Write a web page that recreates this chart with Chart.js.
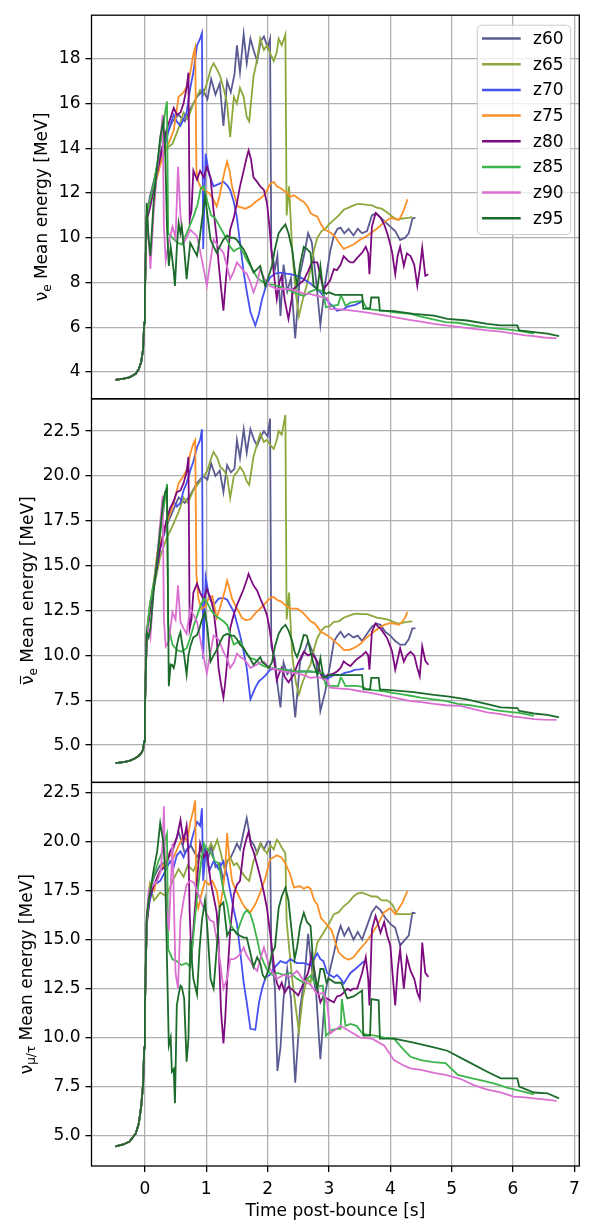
<!DOCTYPE html>
<html>
<head>
<meta charset="utf-8">
<script src="https://cdn.jsdelivr.net/npm/chart.js@4.4.1/dist/chart.umd.min.js"></script>
<style>
  html, body { margin: 0; padding: 0; background: #fff; }
  #wrap { position: relative; width: 593px; height: 1223px; }
</style>
</head>
<body>
<div id="wrap"><canvas id="c" width="593" height="1223"></canvas></div>
<script>
// shared pre-bounce part (time in s, mean energies in MeV)
const PRE_T    = [-0.48, -0.35, -0.25, -0.15, -0.1, -0.06, -0.03, -0.01, 0.0];
const PRE_NUE  = [3.65, 3.7, 3.76, 3.92, 4.12, 4.45, 5.0, 6.2, 7.5];
const PRE_ANUE = [4.0, 4.05, 4.12, 4.28, 4.4, 4.55, 4.75, 5.2, 7.0];
const PRE_NUX  = [4.45, 4.55, 4.7, 5.1, 5.6, 6.5, 7.6, 9.5, 11.5];

const z60_t = [0.03, 0.08, 0.15, 0.25, 0.35, 0.45, 0.55, 0.65, 0.75, 0.85,
  0.95, 1.02, 1.08, 1.15, 1.22, 1.28, 1.34, 1.4, 1.46, 1.5,
  1.55, 1.61, 1.66, 1.72, 1.78, 1.83, 1.89, 1.94, 2.0, 2.04,
  2.06, 2.12, 2.16, 2.21, 2.26, 2.32, 2.38, 2.45, 2.53, 2.6,
  2.66, 2.72, 2.79, 2.86, 2.94, 3.02, 3.08, 3.14, 3.19, 3.25,
  3.32, 3.4, 3.47, 3.54, 3.62, 3.7, 3.77, 3.84, 3.92, 4.0,
  4.08, 4.16, 4.24, 4.3, 4.36, 4.41];
const z60_nue = [11.0, 11.8, 12.6, 13.8, 14.6, 15.2, 15.5, 15.2, 15.8, 16.3,
  16.6, 16.2, 17.1, 16.4, 16.9, 15.0, 17.0, 16.5, 17.3, 18.6,
  17.4, 19.1, 17.8, 18.9, 18.3, 17.9, 18.8, 19.0, 18.5, 18.9,
  9.5, 8.6, 9.2, 6.5, 8.8, 7.6, 8.2, 5.5, 8.4, 9.3,
  10.2, 9.8, 8.1, 6.1, 8.0, 9.4, 10.1, 10.4, 10.45, 10.2,
  10.4, 10.1, 10.4, 10.2, 10.3, 11.0, 11.1, 10.9, 10.7, 10.5,
  10.3, 9.9, 10.0, 10.2, 10.85, 10.9];
const z60_anue = [11.2, 12.8, 14.0, 16.0, 17.2, 18.0, 18.8, 18.5, 19.0, 19.6,
  20.0, 19.8, 20.7, 20.0, 20.3, 19.1, 20.6, 20.2, 20.4, 22.0,
  21.0, 22.6, 21.3, 22.6, 22.0, 21.7, 22.2, 22.5, 22.2, 23.2,
  10.5, 9.8, 8.4, 7.1, 9.6, 8.95, 9.2, 6.54, 9.66, 10.2,
  10.8, 10.3, 9.8, 6.9, 8.0, 9.5, 10.77, 11.1, 11.32, 11.0,
  11.2, 11.0, 11.1, 10.8, 11.2, 11.6, 11.78, 11.7, 11.3, 11.1,
  10.8, 10.6, 10.6, 10.9, 11.5, 11.5];
const z60_nux = [15.9, 17.5, 18.2, 18.8, 19.0, 19.5, 20.5, 19.4, 19.8, 19.2,
  19.8, 19.0, 19.8, 18.7, 18.9, 18.0, 19.0, 19.2, 19.6, 19.9,
  19.6, 20.5, 21.2, 20.1, 19.8, 19.4, 19.9, 19.6, 20.0, 20.0,
  14.5, 12.5, 8.3, 9.5, 12.0, 13.5, 12.0, 7.7, 11.5, 13.0,
  15.3, 13.5, 12.3, 8.9, 12.3, 13.5, 14.3, 15.2, 15.7, 15.2,
  15.6, 15.0, 15.4, 15.0, 15.7, 16.4, 16.7, 16.5, 16.1, 15.8,
  15.6, 14.7, 15.0, 15.2, 16.37, 16.35];

const z65_t = [0.03, 0.08, 0.15, 0.25, 0.35, 0.45, 0.55, 0.63, 0.7, 0.79,
  0.9, 0.95, 1.02, 1.08, 1.12, 1.18, 1.23, 1.29, 1.34, 1.39,
  1.45, 1.5, 1.55, 1.61, 1.66, 1.7, 1.77, 1.83, 1.88, 1.94,
  1.99, 2.05, 2.1, 2.15, 2.18, 2.23, 2.29, 2.31, 2.35, 2.4,
  2.46, 2.51, 2.57, 2.64, 2.7, 2.76, 2.81, 2.88, 2.94, 3.0,
  3.08, 3.16, 3.24, 3.32, 3.4, 3.46, 3.54, 3.62, 3.7, 3.78,
  3.86, 3.95, 4.03, 4.11, 4.18, 4.25, 4.31, 4.36];
const z65_nue = [11.0, 11.5, 12.3, 13.3, 14.0, 14.2, 14.9, 15.6, 15.3, 16.0,
  16.6, 16.4, 17.0, 17.6, 17.8, 17.5, 17.2, 16.6, 16.0, 14.5,
  16.3, 16.0, 16.7, 16.3, 15.4, 15.2, 17.2, 18.0, 18.9, 18.4,
  18.6, 18.2, 17.9, 18.3, 18.9, 18.6, 19.08, 11.0, 12.3, 9.5,
  7.5, 6.5, 7.2, 7.9, 8.6, 9.5, 10.0, 10.3, 10.4, 10.6,
  10.8, 11.0, 11.25, 11.35, 11.45, 11.5, 11.5, 11.47, 11.45, 11.35,
  11.3, 11.13, 10.95, 10.8, 10.85, 10.88, 10.9, 10.92];
const z65_anue = [11.2, 12.5, 13.8, 15.5, 16.5, 17.2, 18.0, 18.8, 18.5, 19.2,
  19.7, 19.96, 20.3, 21.0, 21.34, 21.0, 20.5, 20.3, 20.0, 18.77,
  20.0, 20.2, 20.5, 20.2, 19.7, 19.5, 21.07, 21.8, 22.35, 21.9,
  22.0, 21.7, 21.5, 22.0, 22.5, 22.3, 23.4, 12.0, 13.5, 10.0,
  8.5, 7.83, 8.5, 9.1, 9.5, 10.4, 10.97, 11.4, 11.6, 11.6,
  11.87, 11.9, 12.1, 12.2, 12.3, 12.33, 12.3, 12.3, 12.2, 12.1,
  12.06, 12.0, 11.9, 11.78, 11.8, 11.85, 11.88, 11.9];
const z65_nux = [15.9, 17.8, 17.0, 17.4, 17.2, 18.0, 18.6, 18.2, 18.8, 18.5,
  19.3, 19.0, 19.5, 19.9, 19.6, 20.1, 19.5, 18.7, 19.0, 19.2,
  18.8, 18.9, 18.6, 18.3, 18.1, 18.0, 19.0, 19.5, 19.9, 19.6,
  19.4, 19.8, 19.6, 20.1, 20.0, 19.7, 19.4, 15.96, 14.6, 13.0,
  11.5, 10.3, 12.0, 13.0, 12.8, 14.0, 14.85, 15.2, 15.5, 15.8,
  16.3, 16.4, 16.7, 16.9, 17.2, 17.35, 17.4, 17.3, 17.2, 17.2,
  17.0, 17.0, 16.8, 16.3, 16.3, 16.3, 16.3, 16.3];

const z70_t = [0.03, 0.08, 0.15, 0.25, 0.35, 0.41, 0.47, 0.52, 0.58, 0.63,
  0.68, 0.74, 0.79, 0.85, 0.9, 0.93, 0.95, 0.99, 1.05, 1.12,
  1.2, 1.28, 1.34, 1.39, 1.45, 1.5, 1.55, 1.61, 1.66, 1.72,
  1.8, 1.86, 1.91, 1.97, 2.04, 2.12, 2.21, 2.3, 2.37, 2.48,
  2.59, 2.7, 2.81, 2.86, 2.91, 2.97, 3.02, 3.08, 3.13, 3.19,
  3.24, 3.29, 3.35, 3.43, 3.5, 3.57];
const z70_nue = [11.0, 11.5, 12.4, 13.5, 14.4, 15.0, 15.5, 15.2, 15.0, 15.3,
  15.6, 16.7, 17.4, 18.6, 18.9, 19.15, 9.5, 13.76, 12.8, 12.3,
  12.4, 12.5, 12.35, 12.14, 11.6, 10.9, 9.8, 8.45, 7.6, 6.68,
  6.08, 6.6, 7.26, 7.8, 8.22, 8.4, 8.44, 8.4, 8.37, 8.3,
  8.15, 7.95, 7.7, 7.56, 7.4, 7.2, 7.04, 6.9, 6.74, 6.78,
  6.8, 6.9, 6.95, 7.0, 7.1, 7.18];
const z70_anue = [11.2, 12.6, 14.0, 16.0, 17.3, 18.0, 18.6, 18.3, 18.5, 19.2,
  19.6, 20.3, 20.8, 21.6, 22.0, 22.6, 9.8, 14.35, 13.2, 12.8,
  13.16, 13.2, 13.1, 12.8, 12.42, 11.8, 11.14, 10.2, 9.3, 7.55,
  8.2, 8.56, 8.7, 8.9, 9.2, 9.25, 9.2, 9.2, 9.15, 9.1,
  9.1, 9.1, 9.05, 9.0, 8.97, 8.67, 8.8, 8.9, 8.93, 8.9,
  9.0, 9.05, 9.1, 9.2, 9.22, 9.26];
const z70_nux = [15.9, 17.0, 17.8, 18.0, 18.6, 19.0, 18.7, 19.3, 19.5, 19.2,
  19.6, 19.8, 20.4, 21.0, 20.8, 21.7, 18.0, 19.5, 18.5, 19.0,
  18.6, 19.0, 18.3, 17.5, 16.5, 15.8, 14.5, 12.8, 11.8, 10.45,
  10.4, 11.8, 12.5, 13.1, 13.2, 13.6, 13.9, 13.8, 14.0, 13.8,
  13.8, 13.7, 14.3, 14.0, 13.9, 13.3, 13.2, 13.07, 13.2, 13.0,
  12.76, 13.0, 13.3, 13.5, 13.7, 13.9];

const z75_t = [0.03, 0.08, 0.15, 0.2, 0.3, 0.4, 0.47, 0.55, 0.63, 0.69,
  0.74, 0.79, 0.82, 0.84, 0.87, 0.92, 0.98, 1.04, 1.1, 1.17,
  1.22, 1.27, 1.31, 1.34, 1.38, 1.42, 1.47, 1.52, 1.58, 1.64,
  1.72, 1.8, 1.88, 1.96, 2.04, 2.1, 2.15, 2.22, 2.29, 2.37,
  2.43, 2.48, 2.53, 2.59, 2.65, 2.7, 2.76, 2.81, 2.87, 2.93,
  2.98, 3.04, 3.1, 3.16, 3.24, 3.32, 3.4, 3.5, 3.6, 3.7,
  3.8, 3.9, 4.0, 4.08, 4.14, 4.2, 4.24, 4.28];
const z75_nue = [11.0, 11.6, 12.3, 12.7, 13.8, 14.3, 14.8, 16.3, 16.5, 16.8,
  17.4, 18.2, 18.5, 13.0, 12.5, 12.2, 12.1, 12.0, 11.8, 11.4,
  11.9, 12.6, 13.1, 13.4, 13.0, 12.3, 11.8, 11.4, 11.35, 11.3,
  11.4, 11.6, 11.75, 11.95, 12.4, 12.5, 12.3, 12.2, 12.06, 11.84,
  11.9, 11.8, 11.7, 11.6, 11.4, 11.1, 11.0, 10.95, 10.6, 10.36,
  10.3, 10.2, 10.05, 9.8, 9.5, 9.6, 9.7, 9.9, 10.05, 10.25,
  10.45, 10.7, 10.88, 10.85, 10.8, 11.1, 11.4, 11.72];
const z75_anue = [11.2, 12.7, 14.2, 15.7, 16.8, 17.8, 18.5, 19.6, 20.0, 20.4,
  21.25, 21.8, 22.0, 14.5, 13.2, 12.6, 12.7, 13.2, 13.3, 12.1,
  12.6, 13.2, 13.7, 14.17, 13.7, 13.16, 12.8, 12.5, 12.1, 11.97,
  12.0, 12.35, 12.6, 12.9, 13.2, 13.25, 13.1, 13.0, 12.8, 12.6,
  12.6, 12.6, 12.5, 12.33, 12.1, 11.9, 11.8, 11.6, 11.3, 11.2,
  11.1, 10.95, 10.75, 10.6, 10.31, 10.3, 10.4, 10.6, 10.95, 11.23,
  11.5, 11.7, 11.8, 11.75, 11.7, 11.9, 12.1, 12.42];
const z75_nux = [15.9, 17.8, 17.5, 18.2, 18.8, 19.4, 19.2, 19.8, 20.3, 20.0,
  21.0, 21.6, 22.1, 17.0, 16.6, 17.3, 18.0, 17.8, 18.0, 17.5,
  16.6, 17.5, 18.66, 20.44, 19.0, 18.0, 17.6, 17.3, 16.9, 16.6,
  16.4, 16.8, 17.4, 18.1, 19.1, 19.2, 19.3, 19.2, 18.9, 18.3,
  17.65, 17.7, 17.72, 17.6, 17.7, 17.6, 17.0, 16.8, 16.1, 15.9,
  15.7, 15.5, 14.9, 14.34, 14.1, 13.97, 14.1, 14.5, 14.85, 15.3,
  15.8, 16.4, 16.6, 16.3, 16.6, 16.9, 17.2, 17.47];

const z80_t = [0.03, 0.08, 0.15, 0.25, 0.35, 0.41, 0.47, 0.52, 0.58, 0.63,
  0.68, 0.71, 0.73, 0.76, 0.79, 0.85, 0.9, 0.96, 1.01, 1.07,
  1.12, 1.17, 1.2, 1.24, 1.28, 1.31, 1.34, 1.39, 1.45, 1.5,
  1.55, 1.61, 1.66, 1.69, 1.73, 1.77, 1.83, 1.88, 1.94, 1.99,
  2.03, 2.07, 2.11, 2.15, 2.19, 2.23, 2.28, 2.34, 2.42, 2.5,
  2.59, 2.66, 2.72, 2.81, 2.86, 2.91, 2.97, 3.02, 3.08, 3.13,
  3.19, 3.24, 3.3, 3.35, 3.4, 3.46, 3.54, 3.6, 3.64, 3.66,
  3.7, 3.76, 3.8, 3.84, 3.9, 3.95, 4.0, 4.03, 4.08, 4.12,
  4.16, 4.22, 4.27, 4.33, 4.39, 4.44, 4.48, 4.52, 4.57, 4.62];
const z80_nue = [10.8, 11.3, 12.2, 13.6, 14.8, 15.3, 15.8, 15.5, 15.6, 16.0,
  16.7, 17.38, 10.8, 11.2, 13.0, 12.6, 13.0, 12.7, 13.17, 12.7,
  11.2, 10.0, 8.9, 7.8, 6.74, 7.8, 8.74, 10.36, 10.9, 11.55,
  12.3, 13.0, 13.6, 13.9, 13.5, 12.7, 12.5, 12.3, 12.14, 11.55,
  10.5, 9.18, 8.2, 7.26, 8.0, 8.3, 7.2, 6.37, 7.7, 7.9,
  8.1, 8.5, 8.9, 8.9, 8.3, 7.7, 7.9, 8.1, 8.6, 8.55,
  8.8, 9.18, 9.0, 8.9, 8.9, 9.1, 9.33, 9.6, 9.3, 8.37,
  10.5, 11.1, 11.0, 10.9, 10.6, 10.2, 9.7, 9.33, 8.37, 9.2,
  9.6, 8.74, 9.3, 9.18, 8.8, 7.85, 8.6, 9.55, 8.3, 8.37];
const z80_anue = [11.0, 12.4, 14.0, 16.0, 17.5, 18.2, 18.6, 19.1, 19.2, 19.6,
  20.2, 21.07, 11.5, 12.0, 13.5, 14.0, 13.5, 13.1, 13.7, 13.2,
  12.5, 11.0, 9.3, 8.4, 7.65, 8.5, 9.6, 11.5, 12.3, 12.8,
  13.2, 13.7, 14.2, 14.54, 14.2, 13.9, 13.6, 13.16, 12.7, 12.24,
  11.5, 10.6, 9.6, 8.6, 9.0, 9.3, 8.8, 8.5, 8.9, 9.6,
  10.2, 10.0, 10.1, 9.66, 9.0, 8.67, 8.9, 8.93, 9.0, 9.1,
  9.3, 9.66, 9.5, 9.4, 9.6, 9.8, 10.0, 10.2, 10.0, 9.2,
  11.32, 11.78, 11.6, 11.5, 11.2, 10.95, 10.5, 10.2, 9.2, 9.8,
  10.4, 9.65, 10.0, 10.2, 10.0, 9.3, 8.84, 10.5, 9.7, 9.48];
const z80_nux = [15.7, 17.2, 17.8, 18.5, 18.8, 19.5, 19.8, 20.2, 21.1, 20.0,
  20.8, 19.5, 16.4, 14.0, 15.5, 18.0, 19.9, 19.2, 19.5, 18.0,
  17.2, 16.4, 14.95, 11.4, 9.7, 11.0, 12.9, 15.45, 17.3, 17.8,
  18.0, 19.6, 20.2, 20.5, 19.8, 19.5, 18.8, 18.2, 17.4, 16.6,
  15.6, 14.6, 13.5, 12.8, 12.5, 12.8, 12.3, 12.6, 12.4, 12.15,
  12.8, 13.3, 14.25, 12.5, 11.8, 12.1, 12.0, 11.9, 11.8, 12.1,
  12.15, 12.3, 12.5, 12.4, 12.5, 12.5, 13.3, 14.1, 13.0, 11.64,
  15.5, 16.2, 15.8, 15.35, 15.9, 15.2, 14.7, 13.5, 11.64, 13.5,
  14.5, 12.5, 14.1, 13.4, 13.0, 12.3, 11.98, 14.85, 13.3, 13.1];

const z85_t = [0.03, 0.08, 0.15, 0.22, 0.3, 0.34, 0.36, 0.38, 0.45, 0.52,
  0.6, 0.68, 0.74, 0.8, 0.86, 0.91, 0.96, 1.02, 1.08, 1.14,
  1.2, 1.28, 1.34, 1.39, 1.45, 1.5, 1.55, 1.61, 1.66, 1.72,
  1.77, 1.83, 1.88, 1.94, 2.0, 2.08, 2.16, 2.26, 2.37, 2.48,
  2.59, 2.7, 2.81, 2.9, 2.95, 3.05, 3.15, 3.19, 3.21, 3.27,
  3.35, 3.45, 3.55, 3.62, 3.75, 3.9, 4.06, 4.2, 4.33, 4.5,
  4.7, 4.9, 5.1, 5.3, 5.5, 5.7, 5.9, 6.1, 6.34];
const z85_nue = [11.0, 11.6, 12.5, 13.6, 15.0, 15.8, 16.1, 10.2, 10.0, 9.8,
  9.7, 10.2, 10.6, 11.0, 11.5, 12.2, 12.3, 11.6, 11.0, 10.9,
  10.6, 10.2, 9.9, 9.6, 9.4, 9.5, 9.55, 9.3, 9.0, 8.74,
  8.5, 8.22, 8.1, 8.0, 7.93, 7.9, 7.85, 7.75, 7.63, 7.5,
  7.4, 7.6, 7.7, 7.6, 6.9, 6.95, 7.0, 7.4, 7.35, 6.96,
  7.1, 7.14, 7.18, 6.82, 6.78, 6.74, 6.67, 6.63, 6.6, 6.47,
  6.35, 6.23, 6.2, 6.1, 6.02, 5.95, 5.9, 5.84, 5.71];
const z85_anue = [11.2, 12.8, 14.2, 16.0, 18.0, 19.0, 19.56, 11.7, 10.6, 10.3,
  10.2, 10.4, 11.0, 11.7, 12.3, 12.8, 13.16, 12.9, 12.5, 12.24,
  12.1, 11.9, 11.7, 11.2, 10.6, 10.7, 10.8, 10.4, 10.1, 9.85,
  9.8, 9.7, 9.5, 9.4, 9.35, 9.3, 9.25, 9.2, 9.15, 9.1,
  9.1, 9.1, 9.05, 9.0, 8.3, 8.3, 8.29, 8.75, 8.7, 8.29,
  8.3, 8.3, 8.25, 8.1, 8.05, 8.0, 7.9, 7.83, 7.75, 7.65,
  7.55, 7.46, 7.3, 7.22, 7.1, 6.95, 6.87, 6.8, 6.63];
const z85_nux = [15.9, 17.6, 18.3, 19.0, 19.6, 20.2, 20.4, 14.5, 14.0, 13.9,
  13.7, 13.8, 13.6, 15.5, 17.5, 18.8, 19.9, 19.6, 19.4, 19.0,
  18.9, 17.5, 16.8, 15.8, 15.5, 15.3, 15.8, 16.3, 16.5, 16.3,
  15.8, 15.0, 14.27, 13.8, 13.4, 13.2, 13.3, 13.2, 13.3, 13.0,
  12.8, 13.16, 12.6, 12.65, 10.1, 10.4, 10.45, 10.45, 11.97, 10.6,
  10.7, 10.6, 10.2, 10.15, 10.1, 10.0, 9.95, 9.44, 9.02, 8.85,
  8.75, 8.7, 8.1, 7.95, 7.8, 7.65, 7.45, 7.3, 7.1];

const z90_t = [0.03, 0.06, 0.09, 0.14, 0.2, 0.26, 0.29, 0.31, 0.34, 0.39,
  0.45, 0.5, 0.54, 0.58, 0.63, 0.68, 0.74, 0.8, 0.85, 0.93,
  1.01, 1.06, 1.12, 1.2, 1.28, 1.34, 1.39, 1.45, 1.5, 1.56,
  1.61, 1.66, 1.72, 1.77, 1.83, 1.88, 1.94, 2.04, 2.15, 2.26,
  2.37, 2.48, 2.59, 2.7, 2.81, 2.91, 2.97, 3.02, 3.19, 3.35,
  3.51, 3.7, 3.9, 4.06, 4.2, 4.33, 4.5, 4.71, 4.9, 5.14,
  5.36, 5.58, 5.8, 6.01, 6.2, 6.34, 6.5, 6.71];
const z90_nue = [11.0, 10.0, 8.6, 11.0, 13.0, 14.6, 15.5, 10.5, 9.0, 9.8,
  10.5, 10.0, 13.17, 11.0, 9.77, 10.0, 10.36, 10.2, 10.07, 9.0,
  7.85, 8.8, 9.92, 9.6, 9.33, 8.7, 8.15, 8.5, 8.9, 8.7,
  8.5, 8.4, 8.0, 7.56, 8.0, 8.6, 8.2, 7.85, 7.7, 7.72,
  7.7, 7.6, 7.5, 7.48, 7.4, 7.33, 7.3, 6.82, 6.8, 6.75,
  6.7, 6.62, 6.53, 6.45, 6.38, 6.32, 6.25, 6.15, 6.08, 6.0,
  5.93, 5.86, 5.8, 5.71, 5.64, 5.6, 5.54, 5.5];
const z90_anue = [11.2, 11.5, 11.0, 13.5, 15.5, 17.8, 18.9, 12.0, 10.5, 10.77,
  12.4, 12.0, 13.9, 11.87, 11.5, 11.2, 12.6, 12.2, 11.87, 10.4,
  9.0, 10.0, 11.1, 10.9, 10.2, 9.8, 9.3, 9.6, 10.1, 9.9,
  9.8, 9.6, 9.3, 9.4, 9.5, 9.6, 9.65, 9.3, 9.2, 9.1,
  9.05, 9.0, 8.9, 8.75, 8.8, 8.7, 8.6, 8.2, 8.15, 8.1,
  8.0, 7.9, 7.75, 7.65, 7.55, 7.45, 7.4, 7.3, 7.22, 7.18,
  7.0, 6.82, 6.72, 6.58, 6.52, 6.45, 6.42, 6.4];
const z90_nux = [16.0, 17.5, 17.6, 17.8, 18.0, 18.5, 20.0, 21.8, 17.0, 15.45,
  19.9, 13.3, 12.5, 16.0, 17.0, 17.8, 18.0, 17.9, 17.5, 16.8,
  16.3, 16.0, 15.9, 14.5, 12.5, 13.0, 14.0, 14.0, 14.1, 14.3,
  14.6, 14.2, 13.9, 13.6, 13.4, 14.0, 14.6, 13.5, 13.0, 13.2,
  13.1, 13.4, 12.9, 12.7, 12.2, 12.3, 11.8, 10.2, 10.6, 10.3,
  10.0, 9.95, 9.6, 8.85, 8.6, 8.43, 8.35, 8.2, 8.1, 7.9,
  7.58, 7.35, 7.2, 6.99, 6.95, 6.9, 6.85, 6.77];

const z95_t = [0.03, 0.06, 0.09, 0.14, 0.2, 0.25, 0.3, 0.33, 0.36, 0.39,
  0.42, 0.44, 0.47, 0.49, 0.52, 0.55, 0.58, 0.6, 0.64, 0.68,
  0.71, 0.74, 0.79, 0.85, 0.89, 0.93, 0.98, 1.02, 1.07, 1.12,
  1.17, 1.22, 1.28, 1.34, 1.39, 1.45, 1.5, 1.55, 1.61, 1.66,
  1.72, 1.77, 1.83, 1.88, 1.92, 1.96, 2.02, 2.07, 2.12, 2.18,
  2.23, 2.29, 2.34, 2.4, 2.44, 2.48, 2.53, 2.59, 2.64, 2.7,
  2.75, 2.81, 2.86, 2.91, 2.96, 3.0, 3.1, 3.2, 3.3, 3.4,
  3.54, 3.56, 3.67, 3.69, 3.81, 3.83, 4.06, 4.38, 4.71, 4.93,
  5.25, 5.58, 5.8, 6.07, 6.1, 6.34, 6.56, 6.75];
const z95_nue = [11.56, 10.0, 9.2, 11.5, 13.2, 14.5, 15.2, 14.0, 10.5, 8.74,
  9.6, 9.2, 8.5, 7.85, 9.5, 10.66, 10.2, 10.5, 9.5, 8.15,
  9.0, 9.77, 9.5, 9.2, 9.9, 10.8, 11.84, 11.0, 9.92, 9.6,
  9.33, 9.6, 9.92, 10.1, 10.0, 10.0, 9.9, 9.7, 9.48, 9.2,
  8.8, 8.45, 8.6, 8.74, 8.3, 7.85, 8.3, 8.74, 9.5, 10.2,
  10.4, 10.6, 10.2, 9.48, 8.6, 7.85, 8.8, 9.6, 9.5, 9.33,
  7.85, 7.7, 8.74, 7.56, 7.5, 7.56, 7.45, 7.45, 7.45, 7.45,
  7.45, 6.82, 6.85, 7.33, 7.33, 6.74, 6.72, 6.6, 6.52, 6.37,
  6.3, 6.15, 6.08, 6.08, 5.86, 5.78, 5.71, 5.6];
const z95_anue = [11.3, 11.0, 11.5, 13.5, 15.3, 17.0, 18.6, 19.1, 19.3, 8.28,
  9.5, 9.48, 9.3, 9.6, 10.5, 11.0, 11.3, 10.8, 10.0, 8.93,
  10.0, 10.5, 11.0, 11.14, 11.5, 12.0, 12.4, 11.5, 9.66, 10.0,
  10.3, 10.7, 11.1, 11.2, 11.1, 11.1, 10.9, 10.6, 10.4, 10.1,
  9.8, 9.48, 9.7, 9.9, 9.6, 9.5, 9.3, 9.6, 10.5, 11.2,
  11.5, 11.7, 11.4, 10.8, 10.2, 9.9, 10.4, 11.14, 11.1, 10.2,
  9.5, 8.93, 9.85, 8.75, 8.8, 8.9, 8.9, 8.9, 8.9, 8.9,
  8.9, 8.1, 8.1, 8.75, 8.75, 8.1, 8.05, 7.95, 7.8, 7.72,
  7.55, 7.28, 7.1, 7.06, 6.9, 6.76, 6.68, 6.54];
const z95_nux = [16.2, 17.0, 17.5, 18.5, 19.5, 20.95, 20.0, 18.5, 14.0, 9.6,
  10.0, 8.26, 8.4, 6.65, 11.64, 12.2, 12.65, 12.6, 12.0, 8.77,
  9.95, 15.0, 13.0, 12.2, 14.5, 16.0, 17.0, 15.5, 13.0, 12.5,
  14.5, 16.7, 16.9, 15.2, 15.5, 15.5, 15.3, 15.2, 15.1, 15.1,
  14.3, 13.6, 14.1, 13.8, 13.2, 13.0, 13.5, 14.3, 14.6, 16.6,
  17.2, 17.65, 17.0, 15.2, 14.0, 14.6, 15.7, 16.37, 15.9, 15.7,
  13.5, 12.5, 13.5, 13.5, 12.8, 13.0, 12.8, 12.8, 12.0, 12.1,
  12.4, 10.1, 10.1, 11.97, 11.9, 9.95, 9.95, 9.75, 9.5, 9.33,
  8.8, 8.26, 7.92, 7.92, 7.5, 7.2, 7.16, 6.9];

const X_TICKS = [0, 1, 2, 3, 4, 5, 6, 7];
const NUE_TICKS = [4, 6, 8, 10, 12, 14, 16, 18];
const ANUE_TICKS = [5, 7.5, 10, 12.5, 15, 17.5, 20, 22.5];
const NUX_TICKS = [5, 7.5, 10, 12.5, 15, 17.5, 20, 22.5];

const MODELS = [
  { name: 'z60', color: '#5b5b93', t: z60_t, nue: z60_nue, anue: z60_anue, nux: z60_nux },
  { name: 'z65', color: '#8ca83c', t: z65_t, nue: z65_nue, anue: z65_anue, nux: z65_nux },
  { name: 'z70', color: '#4550f0', t: z70_t, nue: z70_nue, anue: z70_anue, nux: z70_nux },
  { name: 'z75', color: '#fb9026', t: z75_t, nue: z75_nue, anue: z75_anue, nux: z75_nux },
  { name: 'z80', color: '#7d0a80', t: z80_t, nue: z80_nue, anue: z80_anue, nux: z80_nux },
  { name: 'z85', color: '#3cb44a', t: z85_t, nue: z85_nue, anue: z85_anue, nux: z85_nux },
  { name: 'z90', color: '#da70d2', t: z90_t, nue: z90_nue, anue: z90_anue, nux: z90_nux },
  { name: 'z95', color: '#1b6b2a', t: z95_t, nue: z95_nue, anue: z95_anue, nux: z95_nux }
];

// tx: x position of the rotated title's centre line
const PANELS = [
  { axis: 'ya', key: 'nue',  pre: PRE_NUE,  min: 2.8,  max: 19.95, ticks: NUE_TICKS,  dec: 0, tx: 41,
    title: [{ text: 'ν' }, { text: 'e', sub: true }, { text: ' Mean energy [MeV]' }] },
  { axis: 'yb', key: 'anue', pre: PRE_ANUE, min: 2.92, max: 24.3,  ticks: ANUE_TICKS, dec: 1, tx: 27,
    title: [{ text: 'ν', bar: true }, { text: 'e', sub: true }, { text: ' Mean energy [MeV]' }] },
  { axis: 'yc', key: 'nux',  pre: PRE_NUX,  min: 3.45, max: 23.02, ticks: NUX_TICKS,  dec: 1, tx: 25.5,
    title: [{ text: 'ν' }, { text: 'μ/τ', sub: true }, { text: ' Mean energy [MeV]' }] }
];

const FONT = 'DejaVu Sans';
const FS = 17;
const GRID = '#b0b0b0';

const datasets = [];
PANELS.forEach(p => {
  MODELS.forEach((m, i) => {
    const ts = PRE_T.concat(m.t);
    const vs = p.pre.concat(m[p.key]);
    if (ts.length !== vs.length) throw new Error(m.name + ' ' + p.key + ' ' + vs.length + ' vs ' + ts.length);
    datasets.push({
      label: m.name,
      data: ts.map((x, k) => ({ x: x, y: vs[k] })),
      borderColor: m.color,
      backgroundColor: m.color,
      borderWidth: 1.8,
      pointRadius: 0,
      tension: 0,
      fill: false,
      xAxisID: 'x',
      yAxisID: p.axis,
      order: 100 - i
    });
  });
});

function yScale(p) {
  return {
    type: 'linear',
    position: 'left',
    stack: 'panels',
    stackWeight: 1,
    min: p.min,
    max: p.max,
    afterBuildTicks: s => { s.ticks = p.ticks.map(v => ({ value: v })); },
    afterFit: s => { s.width = 91.5; },
    border: { display: false },
    grid: { color: GRID, lineWidth: 1.3, tickLength: 6, tickColor: '#000', drawTicks: true },
    ticks: { color: '#000', font: { family: FONT, size: FS }, padding: 5,
      callback: v => v.toFixed(p.dec) }
  };
}

function drawTitle(ctx, cx, cy, parts) {
  const big = FS + 'px "' + FONT + '"';
  const small = '12px "' + FONT + '"';
  ctx.save();
  ctx.translate(cx, cy);
  ctx.rotate(-Math.PI / 2);
  let total = 0;
  parts.forEach(pt => {
    ctx.font = pt.sub ? small : big;
    pt.w = ctx.measureText(pt.text).width;
    total += pt.w;
  });
  let x = -total / 2;
  ctx.fillStyle = '#000';
  ctx.strokeStyle = '#000';
  ctx.textBaseline = 'alphabetic';
  parts.forEach(pt => {
    ctx.font = pt.sub ? small : big;
    ctx.fillText(pt.text, x, pt.sub ? 9.5 : 6);
    if (pt.bar) {
      ctx.lineWidth = 1.1;
      ctx.beginPath();
      ctx.moveTo(x + 1, -6.5);
      ctx.lineTo(x + pt.w - 0.5, -6.5);
      ctx.stroke();
    }
    x += pt.w;
  });
  ctx.restore();
}

function roundRect(ctx, x, y, w, h, r) {
  ctx.beginPath();
  ctx.moveTo(x + r, y);
  ctx.lineTo(x + w - r, y);
  ctx.arcTo(x + w, y, x + w, y + r, r);
  ctx.lineTo(x + w, y + h - r);
  ctx.arcTo(x + w, y + h, x + w - r, y + h, r);
  ctx.lineTo(x + r, y + h);
  ctx.arcTo(x, y + h, x, y + h - r, r);
  ctx.lineTo(x, y + r);
  ctx.arcTo(x, y, x + r, y, r);
  ctx.closePath();
}

const decor = {
  id: 'decor',
  afterDraw(chart) {
    const ctx = chart.ctx;
    const area = chart.chartArea;
    // panel frames and y titles
    ctx.save();
    ctx.strokeStyle = '#000';
    ctx.lineWidth = 1.3;
    PANELS.forEach(p => {
      const s = chart.scales[p.axis];
      ctx.strokeRect(area.left, s.top, area.right - area.left, s.bottom - s.top);
      drawTitle(ctx, p.tx, (s.top + s.bottom) / 2, p.title);
    });
    ctx.restore();
    // legend in the top panel
    const top = chart.scales.ya.top;
    const bx = area.right - 102, by = top + 10, bw = 93.4, bh = 209.4;
    ctx.save();
    roundRect(ctx, bx, by, bw, bh, 4);
    ctx.fillStyle = 'rgba(255,255,255,0.8)';
    ctx.fill();
    ctx.strokeStyle = '#cccccc';
    ctx.lineWidth = 1;
    ctx.stroke();
    ctx.font = FS + 'px "' + FONT + '"';
    ctx.textBaseline = 'middle';
    ctx.textAlign = 'left';
    MODELS.forEach((m, i) => {
      const y = by + 13.4 + i * 25.67;
      ctx.strokeStyle = m.color;
      ctx.lineWidth = 2.5;
      ctx.beginPath();
      ctx.moveTo(bx + 4.7, y);
      ctx.lineTo(bx + 43.4, y);
      ctx.stroke();
      ctx.fillStyle = '#000';
      ctx.fillText(m.name, bx + 55.7, y + 1);
    });
    ctx.restore();
  }
};

new Chart(document.getElementById('c'), {
  type: 'line',
  data: { datasets: datasets },
  options: {
    responsive: false,
    maintainAspectRatio: false,
    animation: false,
    devicePixelRatio: 1,
    layout: { padding: { left: 0, right: 13.7, top: 3.3, bottom: 0 } },
    plugins: { legend: { display: false }, tooltip: { enabled: false } },
    scales: {
      x: {
        type: 'linear',
        position: 'bottom',
        min: -0.87,
        max: 7.08,
        afterBuildTicks: s => { s.ticks = X_TICKS.map(v => ({ value: v })); },
        afterFit: s => { s.height = 57; },
        border: { display: false },
        grid: { color: GRID, lineWidth: 1.3, tickLength: 6, tickColor: '#000', drawTicks: true },
        ticks: { color: '#000', font: { family: FONT, size: FS }, padding: 7, maxRotation: 0,
          callback: v => String(v) },
        title: { display: true, text: 'Time post-bounce [s]', color: '#000',
          font: { family: FONT, size: FS }, padding: { top: 2, bottom: 1 } }
      },
      yc: yScale(PANELS[2]),
      yb: yScale(PANELS[1]),
      ya: yScale(PANELS[0])
    }
  },
  plugins: [decor]
});
</script>
</body>
</html>
